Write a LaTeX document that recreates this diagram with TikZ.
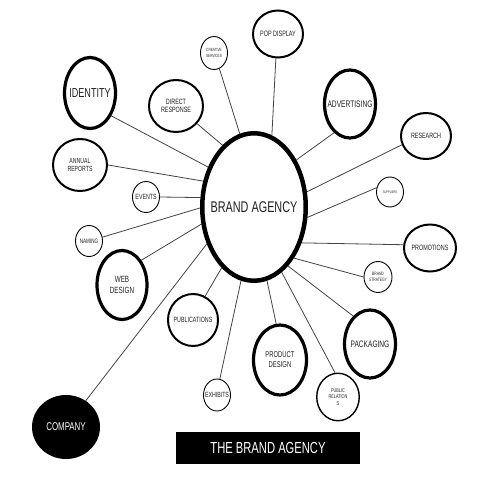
\documentclass[tikz,border=0pt]{standalone}
\usepackage{fontspec}
\newfontfamily\lab{Liberation Sans}[FakeStretch=0.7]
\usetikzlibrary{shapes.geometric}
\pgfdeclarelayer{bg}
\pgfsetlayers{bg,main}
\newcommand\fsz[2]{\lab\fontsize{#1}{#2}\selectfont}
\definecolor{txt}{HTML}{222222}
\definecolor{lnk}{HTML}{444444}
\begin{document}
\begin{tikzpicture}[x=1pt,y=-1pt,
  bub/.style={ellipse, draw=black, fill=white, inner sep=0pt},
  thinb/.style={bub, line width=0.9pt},
  medb/.style={bub, line width=2pt},
  thickb/.style={bub, line width=3.2pt},
  lbl/.style={align=center, text=txt, inner sep=0pt},
  link/.style={draw=lnk, line width=0.8pt},
  sz/.style 2 args={minimum width=#1pt, minimum height=#2pt},
]
\begin{pgfonlayer}{bg}
\fill[white] (0,0) rectangle (480,480);
\end{pgfonlayer}
\useasboundingbox (0,0) rectangle (480,480);

\node[bub, line width=4.5pt, sz={103.5}{147.5},
  label={[lbl,font=\fsz{15.5}{18}]center:BRAND AGENCY}] (brand) at (254,207) {};

\node[thinb, sz={27}{33}, label={[lbl,font=\fsz{4.5}{5.3}]center:CREATIVE\\SERVICES}] (creative) at (214,53) {};
\node[thickb, sz={51}{71}, label={[lbl,font=\fsz{13}{15}]center:IDENTITY}] (identity) at (90,93) {};
\node[medb, sz={54}{52}, label={[lbl,font=\fsz{7.7}{8.2}]center:DIRECT\\RESPONSE}] (direct) at (176,106) {};
\node[medb, sz={54}{52}, label={[lbl,font=\fsz{7.4}{8.2}]center:ANNUAL\\REPORTS}] (annual) at (80,165) {};
\node[thinb, sz={27}{31}, label={[lbl,font=\fsz{7.5}{8}]center:EVENTS}] (events) at (146,197) {};
\node[thinb, sz={27}{31}, label={[lbl,font=\fsz{6.5}{7}]center:NAMING}] (naming) at (89,241) {};
\node[thickb, sz={50}{69}, label={[lbl,font=\fsz{9}{11}]center:WEB\\DESIGN}] (web) at (122,285) {};
\node[ellipse, fill=black, inner sep=0pt, sz={68}{64},
  label={[lbl,text=white,font=\fsz{11.3}{13}]center:COMPANY}] (company) at (66,427) {};
\node[medb, sz={50}{52}, label={[lbl,font=\fsz{7.6}{8}]center:PUBLICATIONS}] (publications) at (193,320) {};
\node[thinb, sz={27}{32}, label={[lbl,font=\fsz{7.5}{8}]center:EXHIBITS}] (exhibits) at (217,395) {};
\node[thickb, sz={53}{70}, label={[lbl,font=\fsz{8.4}{10}]center:PRODUCT\\DESIGN}] (product) at (280,360) {};
\node[bub, line width=1.4pt, sz={42.5}{47.5}, label={[lbl,font=\fsz{5.5}{6.3}]center:PUBLIC\\RELATION\\S}] (public) at (338,397) {};
\node[thickb, sz={51}{68}, label={[lbl,font=\fsz{9.4}{11}]center:PACKAGING}] (packaging) at (370,344) {};
\node[thinb, sz={28}{31}, label={[lbl,font=\fsz{4.8}{5.8}]center:BRAND\\STRATEGY}] (bstrategy) at (378,277) {};
\node[medb, sz={52}{47}, label={[lbl,font=\fsz{7.7}{8}]center:PROMOTIONS}] (promotions) at (430,248) {};
\node[thinb, sz={27}{30}, label={[lbl,font=\fsz{3.6}{4}]center:SUPPLIERS}] (suppliers) at (390,192) {};
\node[medb, sz={50}{46}, label={[lbl,font=\fsz{7.7}{8}]center:RESEARCH}] (research) at (426,136) {};
\node[thickb, sz={51}{68}, label={[lbl,font=\fsz{9.5}{11}]center:ADVERTISING}] (advertising) at (350,104) {};
\node[medb, sz={50}{47}, label={[lbl,font=\fsz{7.8}{8}]center:POP DISPLAY}] (pop) at (278,34) {};

\node[rectangle, fill=black, inner sep=0pt, minimum width=184pt, minimum height=32pt,
  text=white, font=\fsz{16}{18}] (title) at (268,448) {THE BRAND AGENCY};

\begin{pgfonlayer}{bg}
\draw[link] (creative.-71) -- (brand.101);
\draw[link] (identity.-47) -- (brand.139);
\draw[link] (direct.-40) -- (brand.117);
\draw[link] (annual.0) -- (brand.153);
\draw[link] (events.0) -- (brand.170);
\draw[link] (naming.16) -- (brand.181);
\draw[link] (web.52) -- (brand.198);
\draw[link] (company.53) -- (brand.218);
\draw[link] (publications.63) -- (brand.242);
\draw[link] (exhibits.80) -- (brand.260);
\draw[link] (product.96) -- (brand.-80);
\draw[link] (public.97) -- (brand.-67);
\draw[link] (packaging.121) -- (brand.-60);
\draw[link] (bstrategy.180) -- (brand.-52);
\draw[link] (promotions.173) -- (brand.-37);
\draw[link] (suppliers.162) -- (brand.-11);
\draw[link] (research.200) -- (brand.16);
\draw[link] (advertising.241) -- (brand.48);
\draw[link] (pop.265) -- (brand.76);
\end{pgfonlayer}
\end{tikzpicture}
\end{document}
